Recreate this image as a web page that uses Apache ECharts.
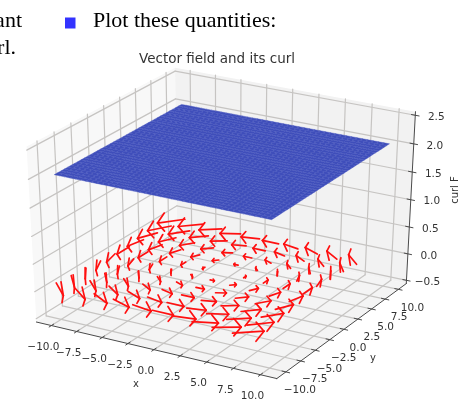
<!DOCTYPE html>
<html><head><meta charset="utf-8"><style>html,body{margin:0;padding:0;background:#fff}#c{width:462px;height:401px;filter:blur(0.45px)}</style>
<script src="https://cdn.jsdelivr.net/npm/echarts@6/dist/echarts.min.js"></script></head>
<body><div id="c"></div><script>
const xTicks=[-10,-7.5,-5,-2.5,0,2.5,5,7.5,10];
const yTicks=[-10,-7.5,-5,-2.5,0,2.5,5,7.5,10];
const zTicks=[-0.5,0,0.5,1,1.5,2,2.5];
const surfaceX=[-10,-9.5,-9,-8.5,-8,-7.5,-7,-6.5,-6,-5.5,-5,-4.5,-4,-3.5,-3,-2.5,-2,-1.5,-1,-0.5,0,0.5,1,1.5,2,2.5,3,3.5,4,4.5,5,5.5,6,6.5,7,7.5,8,8.5,9,9.5,10];
const surfaceY=surfaceX;
const curlValues=[2.04,2.04,2.04,2.04,2.04,2.04,2.04,2.04,2.04,2.04,2.04,2.04,2.04,2.04,2.04,2.04,2.04,2.04,2.04,2.04,2.04,2.04,2.04,2.04,2.04,2.04,2.04,2.04,2.04,2.04,2.04,2.04,2.04,2.04,2.04,2.04,2.04,2.04,2.04,2.04,2.04];
const arrowX=[-10,-8,-6,-4,-2,0,2,4,6,8];
const arrowY=[-10,-8,-6,-4,-2,0,2,4,6,8];
const arrowU=[10,8,6,4,2,0,-2,-4,-6,-8];   // by y index
const arrowV=[-10,-8,-6,-4,-2,0,2,4,6,8];  // by x index
const arrowZ=0;

const PANE={x:[-11.5,11.5],y:[-11.5,11.5],z:[-0.5625,2.5625]};
const VIEW={tx:224.2,ty:217.8,sx:2775,sy:2005};
const LEN=0.2, HEAD=0.26, ANG=15*Math.PI/180;
const RED='#ff1010';

function project(x,y,z){
  const a=(x-PANE.x[0])/(PANE.x[1]-PANE.x[0])-.5,
        b=(y-PANE.y[0])/(PANE.y[1]-PANE.y[0])-.5,
        c=(z-PANE.z[0])/(PANE.z[1]-PANE.z[0])-.5;
  const X=.8660254*a+.5*b, Y=-.25*a+.4330127*b+.8660254*c, N=.4330127*a-.75*b+.5*c, w=10-N;
  return [VIEW.tx+VIEW.sx*X/w, VIEW.ty-VIEW.sy*Y/w];
}
const X0=PANE.x[0],X1=PANE.x[1],Y0=PANE.y[0],Y1=PANE.y[1],Z0=PANE.z[0],Z1=PANE.z[1];

const gridSegs=[];
xTicks.forEach(t=>{gridSegs.push([t,Y0,Z0,t,Y1,Z0]);gridSegs.push([t,Y1,Z0,t,Y1,Z1]);});
yTicks.forEach(t=>{gridSegs.push([X0,t,Z0,X1,t,Z0]);gridSegs.push([X0,t,Z0,X0,t,Z1]);});
zTicks.forEach(t=>{gridSegs.push([X0,Y0,t,X0,Y1,t]);gridSegs.push([X0,Y1,t,X1,Y1,t]);});

const axisSegs=[[X0,Y0,Z0,X1,Y0,Z0],[X1,Y0,Z0,X1,Y1,Z0],[X1,Y1,Z0,X1,Y1,Z1]];
const tickD=0.35;
xTicks.forEach(t=>axisSegs.push([t,Y0+tickD,Z0,t,Y0-tickD,Z0]));
yTicks.forEach(t=>axisSegs.push([X1-tickD,t,Z0,X1+tickD,t,Z0]));
zTicks.forEach(t=>axisSegs.push([X1-tickD,Y1,t,X1+tickD,Y1,t]));

const panes=[
 {c:'#f4f4f4',p:[[X0,Y0,Z0],[X1,Y0,Z0],[X1,Y1,Z0],[X0,Y1,Z0]]},
 {c:'#f8f8f8',p:[[X0,Y0,Z0],[X0,Y1,Z0],[X0,Y1,Z1],[X0,Y0,Z1]]},
 {c:'#f2f2f2',p:[[X0,Y1,Z0],[X1,Y1,Z0],[X1,Y1,Z1],[X0,Y1,Z1]]}
];

const arrowSegs=[];
arrowX.forEach((x,i)=>arrowY.forEach((y,j)=>{
  const u=arrowU[j],v=arrowV[i],w=0;
  const n=Math.hypot(u,v); if(!n) return;
  const tip=[x+LEN/2*u,y+LEN/2*v,arrowZ+LEN/2*w];
  arrowSegs.push([x-LEN/2*u,y-LEN/2*v,arrowZ-LEN/2*w,...tip]);
  const ax=v/n,ay=-u/n,c=Math.cos(ANG);
  [1,-1].forEach(sg=>{
    const s=sg*Math.sin(ANG);
    const dx=(c+ax*ax*(1-c))*u+ax*ay*(1-c)*v+ay*s*w;
    const dy=ay*ax*(1-c)*u+(c+ay*ay*(1-c))*v-ax*s*w;
    const dz=-ay*s*u+ax*s*v+c*w;
    arrowSegs.push([...tip,tip[0]-LEN*HEAD*dx,tip[1]-LEN*HEAD*dy,tip[2]-LEN*HEAD*dz]);
  });
}));

const quads=[];
for(let i=0;i<surfaceX.length-1;i++)for(let j=0;j<surfaceY.length-1;j++)quads.push([i,j]);

function segSeries(data,color,width,z){
  return {type:'custom',coordinateSystem:'cartesian2d',silent:true,z,data,clip:false,
    renderItem:(p,api)=>{const s=data[p.dataIndex];
      const a=api.coord(project(s[0],s[1],s[2])),b=api.coord(project(s[3],s[4],s[5]));
      return {type:'line',shape:{x1:a[0],y1:a[1],x2:b[0],y2:b[1]},style:{stroke:color,lineWidth:width,lineCap:'round'}};},
    encode:{x:0,y:1}};
}
function textSeries(items,z){
  return {type:'custom',coordinateSystem:'cartesian2d',silent:true,z,data:items.map((_,i)=>[i]),clip:false,
    renderItem:(p,api)=>{const t=items[p.dataIndex];
      const q=t.at3?project(...t.at3):t.at; const a=api.coord([q[0]+(t.dx||0),q[1]+(t.dy||0)]);
      return {type:'text',x:a[0],y:a[1],rotation:t.rot||0,style:{text:t.s,font:t.font,fill:t.fill||'#333',align:t.align||'center',verticalAlign:'middle'}};},
    encode:{x:0}};
}
const fmt=v=>(v<0?'\u2212':'')+Math.abs(v).toFixed(1);
const tickFont='10.5px "DejaVu Sans"';
const texts=[];
xTicks.forEach(t=>texts.push({s:fmt(t),at3:[t,Y0,Z0],dx:-8,dy:21.5,font:tickFont}));
yTicks.forEach(t=>texts.push({s:fmt(t),at3:[X1,t,Z0],dx:14,dy:18.5,font:tickFont}));
zTicks.forEach(t=>texts.push({s:fmt(t),at3:[X1,Y1,t],dx:21,dy:2,font:tickFont}));
texts.push({s:'x',at:[136,384],font:'10px "DejaVu Sans"'});
texts.push({s:'y',at:[373,358],font:'10px "DejaVu Sans"'});
texts.push({s:'curl F',at:[455,190],rot:Math.PI/2,font:'10px "DejaVu Sans"'});
texts.push({s:'Vector field and its curl',at:[217,59],font:'13.5px "DejaVu Sans"'});
const serif='22px "Liberation Serif"';
texts.push({s:'Plot these quantities:',at:[93,21],align:'left',font:serif,fill:'#000'});
texts.push({s:'ant',at:[22,21],align:'right',font:serif,fill:'#000'});
texts.push({s:'rl.',at:[16,48],align:'right',font:serif,fill:'#000'});

const option={animation:false,
 grid:{left:0,right:0,top:0,bottom:0},
 xAxis:{type:'value',min:0,max:462,show:false},
 yAxis:{type:'value',min:0,max:401,inverse:true,show:false},
 series:[
  {type:'custom',coordinateSystem:'cartesian2d',silent:true,z:1,data:panes.map((_,i)=>[i]),clip:false,
   renderItem:(p,api)=>{const q=panes[p.dataIndex];
     return {type:'polygon',shape:{points:q.p.map(v=>api.coord(project(...v)))},style:{fill:q.c}};},encode:{x:0}},
  segSeries(gridSegs,'#c6c4c2',1.2,2),
  segSeries(axisSegs,'#4a4a4a',1,3),
  segSeries(arrowSegs,RED,1.7,4),
  {type:'custom',coordinateSystem:'cartesian2d',silent:true,z:5,data:quads,clip:false,
   renderItem:(p,api)=>{const i=quads[p.dataIndex][0],j=quads[p.dataIndex][1];
     const pts=[[i,j],[i+1,j],[i+1,j+1],[i,j+1]].map(k=>api.coord(project(surfaceX[k[0]],surfaceY[k[1]],curlValues[k[0]])));
     return {type:'polygon',shape:{points:pts},style:{fill:'#3f4eba',stroke:'#4553c0',lineWidth:0.4}};},encode:{x:0,y:1}},
  {type:'custom',coordinateSystem:'cartesian2d',silent:true,z:6,data:[[70,23]],clip:false,
   renderItem:(p,api)=>{const a=api.coord([65,17.5]),b=api.coord([75.5,28.5]);
     return {type:'rect',shape:{x:a[0],y:a[1],width:b[0]-a[0],height:b[1]-a[1]},style:{fill:'#3333ff'}};},encode:{x:0,y:1}},
  textSeries(texts,7)
 ]};
echarts.init(document.getElementById('c'),null,{renderer:'canvas'}).setOption(option);
</script></body></html>
